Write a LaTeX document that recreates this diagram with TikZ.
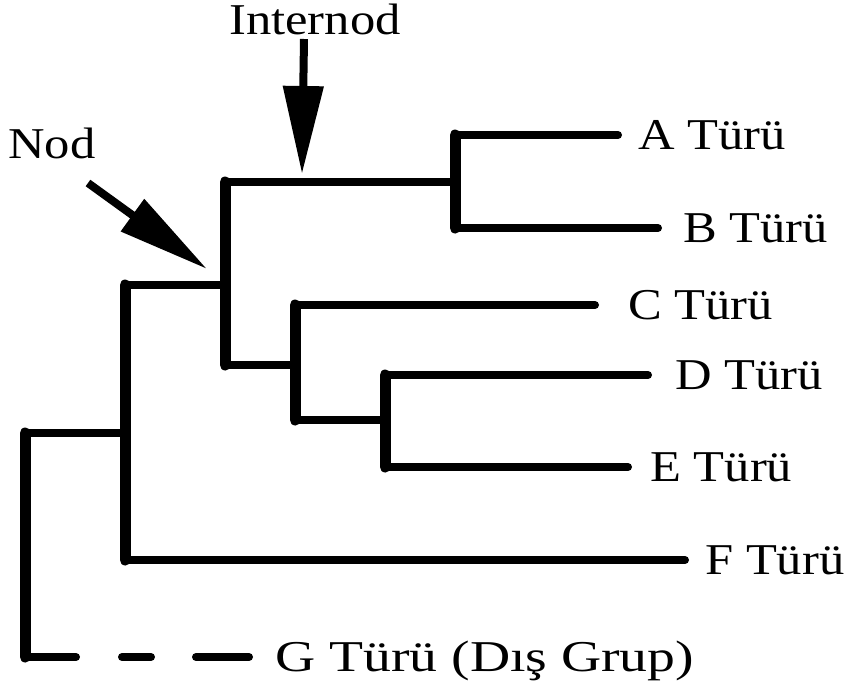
\documentclass[tikz,border=0pt]{standalone}
\usepackage{fontspec}
\setmainfont{Liberation Serif}
\usetikzlibrary{arrows.meta}
\begin{document}
\begin{tikzpicture}[x=1pt,y=-1pt,
  hbranch/.style={line width=8pt,line cap=round},
  vbranch/.style={line width=11pt,line cap=round},
  lbl/.style={anchor=base west,inner sep=0pt,xscale=1.15,font=\fontsize{44}{50}\selectfont},
  ptr/.style={line width=8pt,-{Triangle[length=88pt,width=39pt]}}
]
\useasboundingbox (0,0) rectangle (852,683);
% internal nodes (vertical extents)
\coordinate (r0) at (25,433);  \coordinate (r1) at (25,657);
\coordinate (n1a) at (125,285); \coordinate (n1b) at (125,560);
\coordinate (n2a) at (225,182); \coordinate (n2b) at (225,365);
\coordinate (n3a) at (455,135); \coordinate (n3b) at (455,228);
\coordinate (n4a) at (295,305); \coordinate (n4b) at (295,420);
\coordinate (n5a) at (385,375); \coordinate (n5b) at (385,467);
% leaf ends
\coordinate (la) at (618,135);
\coordinate (lb) at (658,228);
\coordinate (lc) at (595,305);
\coordinate (ld) at (648,375);
\coordinate (le) at (628,467);
\coordinate (lf) at (685,560);
\coordinate (lg) at (249,657);
% vertical bars
\draw[vbranch] (r0) -- (r1);
\draw[vbranch] (n1a) -- (n1b);
\draw[vbranch] (n2a) -- (n2b);
\draw[vbranch] (n3a) -- (n3b);
\draw[vbranch] (n4a) -- (n4b);
\draw[vbranch] (n5a) -- (n5b);
% horizontal branches
\draw[hbranch] (r0) -- (r0 -| n1a);
\draw[hbranch] (n1a) -- (n1a -| n2a);
\draw[hbranch] (n2a) -- (n2a -| n3a);
\draw[hbranch] (n2b) -- (n2b -| n4a);
\draw[hbranch] (n4b) -- (n4b -| n5a);
\draw[hbranch] (n3a) -- (la);
\draw[hbranch] (n3b) -- (lb);
\draw[hbranch] (n4a) -- (lc);
\draw[hbranch] (n5a) -- (ld);
\draw[hbranch] (n5b) -- (le);
\draw[hbranch] (n1b) -- (lf);
\draw[hbranch,dash pattern=on 51pt off 46pt on 29pt off 45pt on 60pt] (r1) -- (lg);
% labels
\node[lbl] (ta) at (638,149) {A Türü};
\node[lbl] (tb) at (683,242) {B Türü};
\node[lbl] (tc) at (628,319) {C Türü};
\node[lbl] (td) at (675,389) {D Türü};
\node[lbl] (te) at (650,481) {E Türü};
\node[lbl] (tf) at (705,574) {F Türü};
\node[lbl,xscale=1.1] (tg) at (275,671) {G Türü (Dış Grup)};
\node[lbl] (tnod) at (8,158) {Nod};
\node[lbl] (tint) at (229,34) {Internod};
% pointer arrows
\coordinate (ia) at (304,39);  \coordinate (ib) at (302,174);
\coordinate (na) at (88,183);  \coordinate (nb) at (207,269);
\draw[ptr] (ia) -- (ib);
\draw[ptr,-{Triangle[length=92pt,width=38pt]}] (na) -- (nb);
\end{tikzpicture}
\end{document}
